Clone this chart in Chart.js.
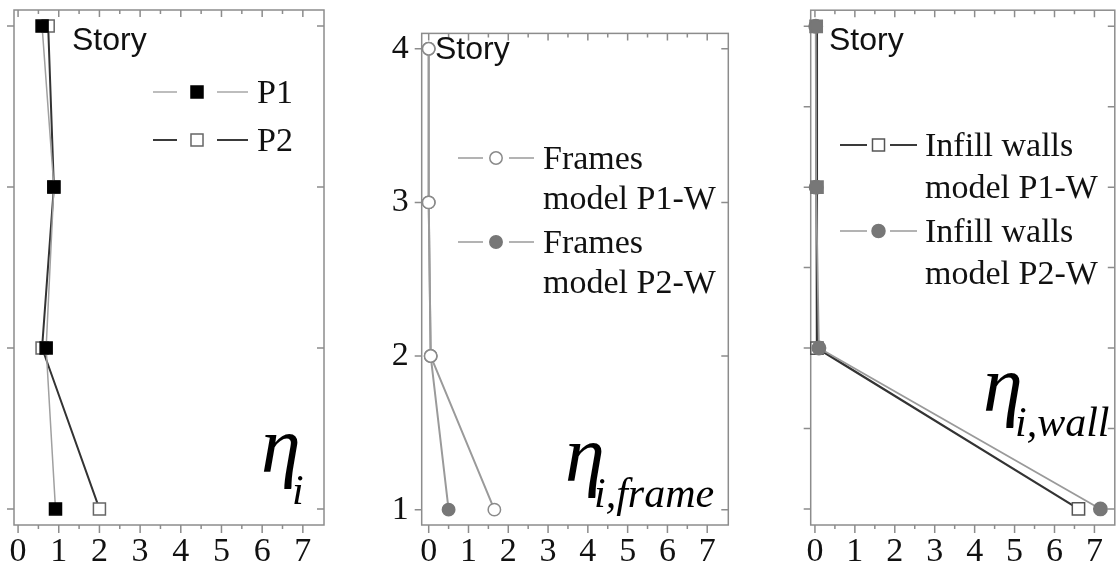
<!DOCTYPE html>
<html>
<head>
<meta charset="utf-8">
<script src="https://cdn.jsdelivr.net/npm/chart.js@4.4.1/dist/chart.umd.min.js"></script>
<style>
  html, body { margin: 0; padding: 0; background: #fff; overflow: hidden; }
  #wrap { position: relative; width: 1117px; height: 570px; overflow: hidden; }
  canvas { position: absolute; top: 0; }
</style>
</head>
<body>
<div id="wrap">
  <canvas id="c1" width="345" height="570" style="left:0px"></canvas>
  <canvas id="c2" width="400" height="570" style="left:345px"></canvas>
  <canvas id="c3" width="380" height="570" style="left:745px"></canvas>
</div>
<script>
// stories (top to bottom) and tick values
const stories = [4, 3, 2, 1];
const storyTicks = [1, 2, 3, 4];
const xTicks = [0, 1, 2, 3, 4, 5, 6, 7];
const xMinor = [0.5, 1.5, 2.5, 3.5, 4.5, 5.5, 6.5];
const storyMinor = [1.5, 2.5, 3.5];

// eta_i
const etaP1 = [0.59, 0.88, 0.69, 0.92];
const etaP2 = [0.74, 0.88, 0.59, 2.0];
// eta_i,frame
const frameP1W = [0.0, 0.0, 0.05, 1.65];
const frameP2W = [0.0, 0.0, 0.05, 0.5];
// eta_i,wall
const wallP1W = [0.03, 0.05, 0.05, 6.6];
const wallP2W = [0.02, 0.03, 0.1, 7.15];

const SERIF = '"Liberation Serif", "Times New Roman", serif';
const SANS = '"Liberation Sans", Arial, sans-serif';

const toPoints = (vals) => stories.map((s, i) => ({ x: vals[i], y: s }));

// frame + tick marks, drawn under the data
const framePlugin = {
    id: 'frame',
    beforeDatasetsDraw(chart, args, opts) {
        const { ctx, chartArea: a, scales: { x, y } } = chart;
        ctx.save();
        ctx.strokeStyle = '#8c8c8c';
        ctx.lineWidth = 1.5;
        ctx.strokeRect(a.left, a.top, a.right - a.left, a.bottom - a.top);
        ctx.beginPath();
        xTicks.forEach(v => {
            const px = x.getPixelForValue(v);
            ctx.moveTo(px, a.bottom); ctx.lineTo(px, a.bottom + 8);
            ctx.moveTo(px, a.top); ctx.lineTo(px, a.top + 7);
        });
        xMinor.forEach(v => {
            const px = x.getPixelForValue(v);
            if (px > a.right) return;
            ctx.moveTo(px, a.bottom); ctx.lineTo(px, a.bottom + 4);
            ctx.moveTo(px, a.top); ctx.lineTo(px, a.top + 4);
        });
        const yT = opts.yMinor ? storyTicks.concat(storyMinor) : storyTicks;
        yT.forEach(v => {
            const py = y.getPixelForValue(v);
            ctx.moveTo(a.left - 7, py); ctx.lineTo(a.left, py);
            ctx.moveTo(a.right - 7, py); ctx.lineTo(a.right, py);
        });
        ctx.stroke();
        ctx.restore();
    }
};

// story label, legend and eta label
const notesPlugin = {
    id: 'notes',
    afterDraw(chart, args, opts) {
        const ctx = chart.ctx;
        ctx.save();
        ctx.translate(-chart.canvas.offsetLeft, 0);
        ctx.fillStyle = '#111';
        ctx.textBaseline = 'alphabetic';
        ctx.font = '32px ' + SANS;
        ctx.fillText('Story', opts.story[0], opts.story[1]);

        opts.legend.forEach(item => {
            ctx.strokeStyle = item.color;
            ctx.lineWidth = item.width;
            ctx.beginPath();
            ctx.moveTo(item.seg[0], item.y); ctx.lineTo(item.seg[1], item.y);
            ctx.moveTo(item.seg[2], item.y); ctx.lineTo(item.seg[3], item.y);
            ctx.stroke();
            ctx.fillStyle = item.fill;
            ctx.strokeStyle = item.stroke;
            ctx.lineWidth = 1.5;
            Chart.helpers.drawPoint(ctx, { pointStyle: item.style, radius: item.radius, rotation: 0, borderWidth: 1.5 },
                (item.seg[1] + item.seg[2]) / 2, item.y);
            ctx.fillStyle = '#111';
            ctx.font = '34px ' + SERIF;
            item.text.forEach((t, i) => ctx.fillText(t, opts.textX, item.y + 11 + i * opts.lineGap));
        });

        const e = opts.eta;
        ctx.fillStyle = '#000';
        ctx.font = 'italic 80px ' + SERIF;
        ctx.fillText('η', e.x, e.y);
        ctx.font = 'italic 42px ' + SERIF;
        ctx.fillText(e.sub, e.subX, e.subY);
        ctx.restore();
    }
};

const makeChart = (id, cfg) => {
    const xs = {
        type: 'linear', min: cfg.xMin, max: cfg.xMax,
        grid: { display: false, drawTicks: false }, border: { display: false },
        ticks: { font: { family: SERIF, size: 34 }, color: '#111', padding: 7 },
        afterBuildTicks: s => { s.ticks = xTicks.map(v => ({ value: v })); },
        afterFit: s => { s.height = cfg.xHeight; }
    };
    const ys = {
        type: 'linear', min: 0.9, max: 4.1,
        grid: { display: false, drawTicks: false }, border: { display: false },
        ticks: { display: cfg.yLabels, font: { family: SERIF, size: 34 }, color: '#111', padding: 13 },
        afterBuildTicks: s => { s.ticks = storyTicks.map(v => ({ value: v })); },
        afterFit: s => { s.width = cfg.yWidth; }
    };
    return new Chart(document.getElementById(id), {
        type: 'scatter',
        data: { datasets: cfg.datasets },
        options: {
            responsive: false,
            animation: false,
            devicePixelRatio: 1,
            layout: { padding: cfg.padding },
            scales: { x: xs, y: ys },
            elements: { line: { tension: 0 } },
            plugins: {
                legend: { display: false },
                tooltip: { enabled: false },
                frame: { yMinor: cfg.yMinor },
                notes: cfg.notes
            }
        },
        plugins: [framePlugin, notesPlugin]
    });
};

const series = (vals, o) => Object.assign({
    data: toPoints(vals), showLine: true, clip: false, pointBorderWidth: 1.5
}, o);

// panel 1: eta_i
makeChart('c1', {
    xMin: -0.1, xMax: 7.52, xHeight: 45, yWidth: 14, yLabels: false,
    padding: { left: 0, top: 10, right: 21, bottom: 0 },
    datasets: [
        series(etaP1, { borderColor: '#a0a0a0', borderWidth: 1.5, pointStyle: 'rect', pointRadius: 8.5,
            pointBackgroundColor: '#000', pointBorderColor: '#000', order: 0 }),
        series(etaP2, { borderColor: '#333', borderWidth: 2, pointStyle: 'rect', pointRadius: 8.5,
            pointBackgroundColor: '#fff', pointBorderColor: '#666', order: 1 })
    ],
    notes: {
        story: [72, 50], textX: 257, lineGap: 40,
        legend: [
            { y: 92, seg: [153, 177, 217, 248], color: '#a8a8a8', width: 1.5, style: 'rect', radius: 8.5, fill: '#000', stroke: '#000', text: ['P1'] },
            { y: 140, seg: [153, 177, 217, 248], color: '#3a3a3a', width: 2, style: 'rect', radius: 8.5, fill: '#fff', stroke: '#666', text: ['P2'] }
        ],
        eta: { x: 261, y: 472, sub: 'i', subX: 292, subY: 504 }
    }
});

// panel 2: eta_i,frame
makeChart('c2', {
    xMin: -0.176, xMax: 7.53, xHeight: 45, yWidth: 76.7, yLabels: true,
    padding: { left: 0, top: 18, right: 16.7, bottom: 0 },
    datasets: [
        series(frameP1W, { borderColor: '#9a9a9a', borderWidth: 2, pointStyle: 'circle', pointRadius: 6.2,
            pointBackgroundColor: '#fff', pointBorderColor: '#8a8a8a', order: 0 }),
        series(frameP2W, { borderColor: '#9a9a9a', borderWidth: 2, pointStyle: 'circle', pointRadius: 6.2,
            pointBackgroundColor: '#777', pointBorderColor: '#777', order: 1 })
    ],
    notes: {
        story: [435, 59], textX: 543, lineGap: 40,
        legend: [
            { y: 158, seg: [458, 483, 509, 534], color: '#9a9a9a', width: 1.5, style: 'circle', radius: 6.2, fill: '#fff', stroke: '#8a8a8a', text: ['Frames', 'model P1-W'] },
            { y: 242, seg: [458, 483, 509, 534], color: '#9a9a9a', width: 1.5, style: 'circle', radius: 6.2, fill: '#777', stroke: '#777', text: ['Frames', 'model P2-W'] }
        ],
        eta: { x: 565, y: 481, sub: 'i,frame', subX: 594, subY: 507 }
    }
});

// panel 3: eta_i,wall
makeChart('c3', {
    xMin: -0.106, xMax: 7.51, xHeight: 45, yWidth: 65.7, yLabels: false, yMinor: true,
    padding: { left: 0, top: 10, right: 6, bottom: 0 },
    datasets: [
        series(wallP2W, { borderColor: '#9a9a9a', borderWidth: 1.8, pointStyle: 'circle', pointRadius: 6.7,
            pointBackgroundColor: '#777', pointBorderColor: '#777', order: 0 }),
        series(wallP1W, { borderColor: '#333', borderWidth: 2.2, pointStyle: 'rect', pointRadius: 8.7,
            pointBackgroundColor: ['#777', '#777', '#fff', '#fff'], pointBorderColor: ['#777', '#777', '#555', '#555'], order: 1 })
    ],
    notes: {
        story: [829, 50], textX: 925, lineGap: 42,
        legend: [
            { y: 145, seg: [840, 867, 890, 917], color: '#3a3a3a', width: 2, style: 'rect', radius: 8.5, fill: '#fff', stroke: '#555', text: ['Infill walls', 'model P1-W'] },
            { y: 231, seg: [840, 867, 890, 917], color: '#9a9a9a', width: 1.5, style: 'circle', radius: 6.5, fill: '#777', stroke: '#777', text: ['Infill walls', 'model P2-W'] }
        ],
        eta: { x: 983, y: 411, sub: 'i,wall', subX: 1015, subY: 436 }
    }
});
</script>
</body>
</html>
